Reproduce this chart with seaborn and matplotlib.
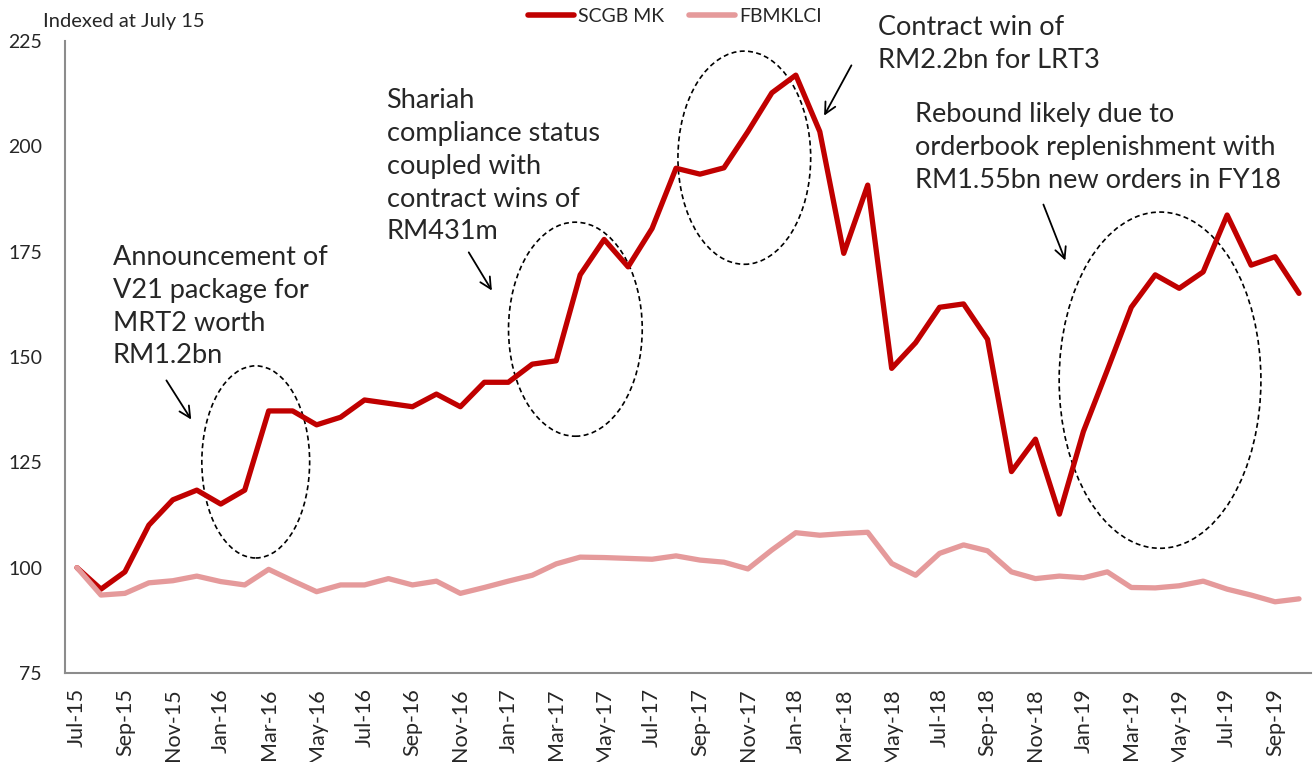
import matplotlib
matplotlib.use("Agg")
import matplotlib.pyplot as plt
from matplotlib.patches import Ellipse
import pandas as pd
import seaborn as sns

months = pd.date_range("2015-07-01", periods=52, freq="MS").strftime("%b-%y").tolist()

scgb = [100.0, 94.9, 99.0, 110.1, 116.1, 118.4, 115.1, 118.4, 137.2, 137.2,
        133.9, 135.7, 139.8, 139.0, 138.2, 141.2, 138.2, 144.0, 144.0, 148.3,
        149.1, 169.5, 177.9, 171.4, 180.5, 194.8, 193.4, 194.9, 203.5, 212.7,
        216.9, 203.5, 174.6, 190.8, 147.3, 153.4, 161.8, 162.6, 154.2, 122.8,
        130.5, 112.7, 132.3, 146.9, 161.8, 169.5, 166.3, 170.2, 183.7, 171.8,
        173.8, 165.1]

fbmklci = [100.0, 93.5, 93.9, 96.4, 96.9, 98.0, 96.7, 95.9, 99.6, 96.9,
           94.3, 95.9, 95.9, 97.4, 95.9, 96.8, 93.9, 95.3, 96.8, 98.2,
           100.9, 102.5, 102.4, 102.2, 102.0, 102.8, 101.8, 101.3, 99.7, 104.2,
           108.3, 107.7, 108.1, 108.4, 101.0, 98.2, 103.4, 105.4, 104.0, 99.0,
           97.4, 98.0, 97.6, 99.0, 95.3, 95.2, 95.7, 96.8, 94.9, 93.5,
           91.9, 92.6]

df = pd.DataFrame({
    "idx": list(range(len(months))) * 2,
    "value": scgb + fbmklci,
    "series": ["SCGB MK"] * len(scgb) + ["FBMKLCI"] * len(fbmklci),
})

sns.set_style("white")
plt.rcParams["font.family"] = ["Lato", "DejaVu Sans"]

fig = plt.figure(figsize=(13.14, 7.62), dpi=100)
ax = fig.add_axes([65 / 1314, 1 - 673 / 762, (1311 - 65) / 1314, (673 - 41) / 762])

sns.lineplot(data=df, x="idx", y="value", hue="series",
             palette={"SCGB MK": "#C00000", "FBMKLCI": "#E59A9B"},
             hue_order=["SCGB MK", "FBMKLCI"], linewidth=3.8, ax=ax)

ax.set_xlim(-0.5, len(months) - 0.5)
ax.set_ylim(75, 225)
ax.set_yticks([75, 100, 125, 150, 175, 200, 225])
ax.set_xlabel("")
ax.set_ylabel("")

# category axis: marks between categories, labels under every other month
ax.set_xticks([i - 0.5 for i in range(0, len(months) + 1, 2)])
ax.set_xticklabels([])
ax.set_xticks(list(range(0, len(months), 2)), minor=True)
ax.set_xticklabels(months[::2], minor=True, rotation=90, fontsize=15.5)
ax.tick_params(axis="x", which="major", length=6, width=1.3, color="#8c8c8c", direction="out")
ax.tick_params(axis="x", which="minor", length=0, pad=11)
ax.tick_params(axis="y", length=6, width=1.3, color="#8c8c8c", direction="out", labelsize=14, pad=10.5)

for side in ["top", "right"]:
    ax.spines[side].set_visible(False)
for side in ["left", "bottom"]:
    ax.spines[side].set_color("#8c8c8c")
    ax.spines[side].set_linewidth(1.5)

leg = ax.legend(loc="upper center", bbox_to_anchor=(0.4896, 1.08), ncol=2, frameon=False,
                fontsize=14, handlelength=2.35, columnspacing=1.3, handletextpad=0.2)
for line in leg.get_lines():
    line.set_linewidth(4)

fig.text(43 / 1314, 1 - 22 / 762, "Indexed at July 15", fontsize=14.5, va="center", ha="left")

note_kw = dict(fontsize=19.5, va="top", ha="left", linespacing=1.39)
ax.text(1.5, 176.6, "Announcement of\nV21 package for\nMRT2 worth\nRM1.2bn", **note_kw)
ax.text(12.92, 213.8, "Shariah\ncompliance status\ncoupled with\ncontract wins of\nRM431m", **note_kw)
ax.text(33.42, 231.2, "Contract win of\nRM2.2bn for LRT3", **note_kw)
ax.text(34.96, 210.5, "Rebound likely due to\norderbook replenishment with\nRM1.55bn new orders in FY18", **note_kw)

for cx, cy, w, h in [(7.46, 125.1, 4.5, 45.6), (20.8, 156.6, 5.58, 50.8),
                     (27.85, 197.3, 5.54, 50.6), (45.2, 144.5, 8.42, 79.8)]:
    ax.add_patch(Ellipse((cx, cy), w, h, fill=False, edgecolor="black",
                         linestyle=(0, (3, 2)), linewidth=1.2, clip_on=False))

arrow_kw = dict(arrowstyle="->,head_length=0.8,head_width=0.4", color="black", lw=1.3)
for (x0, y0), (x1, y1) in [((3.67, 145.0), (4.83, 134.6)), ((16.29, 175.4), (17.375, 165.2)),
                           ((32.375, 219.8), (31.125, 206.7)), ((40.29, 186.8), (41.29, 172.3))]:
    ax.annotate("", xy=(x1, y1), xytext=(x0, y0), arrowprops=arrow_kw, annotation_clip=False)

fig.savefig("out.png", dpi=100)
